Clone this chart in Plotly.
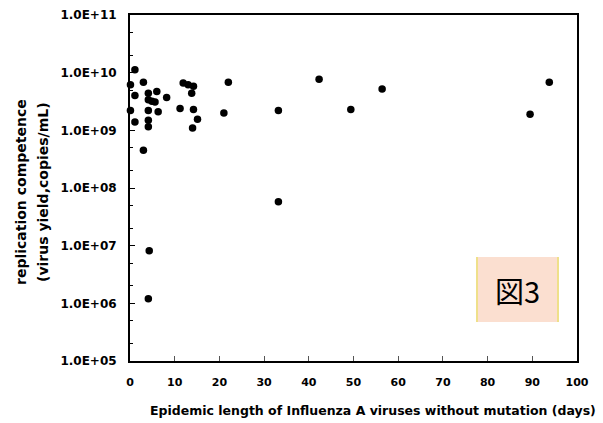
import plotly.graph_objects as go

# Epidemic length (days) and replication competence (copies/mL)
days = [1.1, 0.1, 1.1, 0.1, 1.1, 3.0, 4.1, 6.0, 4.1, 5.6, 8.2, 4.1, 6.3, 4.1, 4.1, 3.0,
        11.9, 13.0, 14.2, 13.8, 11.2, 14.2, 15.1, 14.0, 22.0, 21.0, 33.2, 33.2,
        42.3, 49.4, 56.4, 89.5, 93.8, 4.3, 4.1, 4.9]
yield_copies = [1.12e10, 6.2e9, 4.0e9, 2.2e9, 1.4e9, 6.8e9, 4.4e9, 4.7e9, 3.4e9, 3.1e9,
                3.7e9, 2.2e9, 2.1e9, 1.5e9, 1.15e9, 4.5e8,
                6.6e9, 6.2e9, 5.8e9, 4.4e9, 2.4e9, 2.3e9, 1.55e9, 1.1e9, 6.8e9, 2.0e9,
                2.2e9, 5.8e7, 7.7e9, 2.3e9, 5.2e9, 1.9e9, 6.8e9, 8.2e6, 1.2e6, 3.2e9]

x_ticks = [0, 10, 20, 30, 40, 50, 60, 70, 80, 90, 100]
y_tickvals = [1e5, 1e6, 1e7, 1e8, 1e9, 1e10, 1e11]
y_ticktext = ["1.0E+05", "1.0E+06", "1.0E+07", "1.0E+08", "1.0E+09", "1.0E+10", "1.0E+11"]

FONT = "DejaVu Sans"

fig = go.Figure()
fig.add_trace(go.Scatter(
    x=days, y=yield_copies, mode="markers",
    marker=dict(color="black", size=7.5),
    cliponaxis=False, showlegend=False,
))

fig.update_layout(
    width=603, height=423,
    margin=dict(l=130, r=26, t=15, b=62),
    paper_bgcolor="white", plot_bgcolor="white",
    font=dict(family=FONT, color="black"),
    xaxis=dict(
        range=[0, 100], tickvals=x_ticks, ticktext=[str(v) for v in x_ticks],
        showline=True, linecolor="black", linewidth=2, mirror=True,
        ticks="inside", ticklen=5, tickcolor="#555", showgrid=False, zeroline=False,
        tickfont=dict(family=FONT, size=11, color="black", weight="bold"),
        ticklabelstandoff=10, automargin=False,
    ),
    yaxis=dict(
        type="log", range=[5, 11], tickvals=y_tickvals, ticktext=y_ticktext,
        showline=True, linecolor="black", linewidth=2, mirror=True,
        ticks="inside", ticklen=5, tickcolor="black", showgrid=False, zeroline=False,
        tickfont=dict(family=FONT, size=12, color="black", weight="bold"),
        ticklabelstandoff=9, automargin=False,
        minor=dict(ticks="inside", ticklen=3, tickcolor="black", showgrid=False),
    ),
)

# axis titles
fig.add_annotation(
    text="<b>Epidemic length of Influenza A viruses without mutation (days)</b>",
    xref="paper", yref="paper", x=(372.5 - 130) / 447, y=(361 - 410) / 346,
    xanchor="center", yanchor="middle", showarrow=False,
    font=dict(family=FONT, size=12.5, color="black"),
)
fig.add_annotation(
    text="<b>replication competence</b>",
    xref="paper", yref="paper", x=(21 - 130) / 447, y=(361 - 192) / 346,
    xanchor="center", yanchor="middle", showarrow=False, textangle=-90,
    font=dict(family=FONT, size=14, color="black"),
)
fig.add_annotation(
    text="<b>(virus yield,copies/mL)</b>",
    xref="paper", yref="paper", x=(43 - 130) / 447, y=(361 - 192) / 346,
    xanchor="center", yanchor="middle", showarrow=False, textangle=-90,
    font=dict(family=FONT, size=14, color="black"),
)

# 図3 label box
bx0, bx1 = (477 - 130) / 447, (558 - 130) / 447
by0, by1 = (361 - 322) / 346, (361 - 257) / 346
fig.add_shape(type="rect", xref="paper", yref="paper", x0=bx0, x1=bx1, y0=by0, y1=by1,
              fillcolor="#fbdfd0", line=dict(width=0), layer="below")
for bx in (bx0, bx1):
    fig.add_shape(type="line", xref="paper", yref="paper", x0=bx, x1=bx, y0=by0, y1=by1,
                  line=dict(color="#efe08a", width=2))
fig.add_annotation(
    text="図3", xref="paper", yref="paper", x=(bx0 + bx1) / 2, y=(by0 + by1) / 2,
    xanchor="center", yanchor="middle", showarrow=False,
    font=dict(family="Noto Sans CJK JP", size=29, color="black"),
)

fig.write_html("out.html", config={"displayModeBar": False},
               post_script="document.body.style.margin='0';document.body.style.padding='0';")
